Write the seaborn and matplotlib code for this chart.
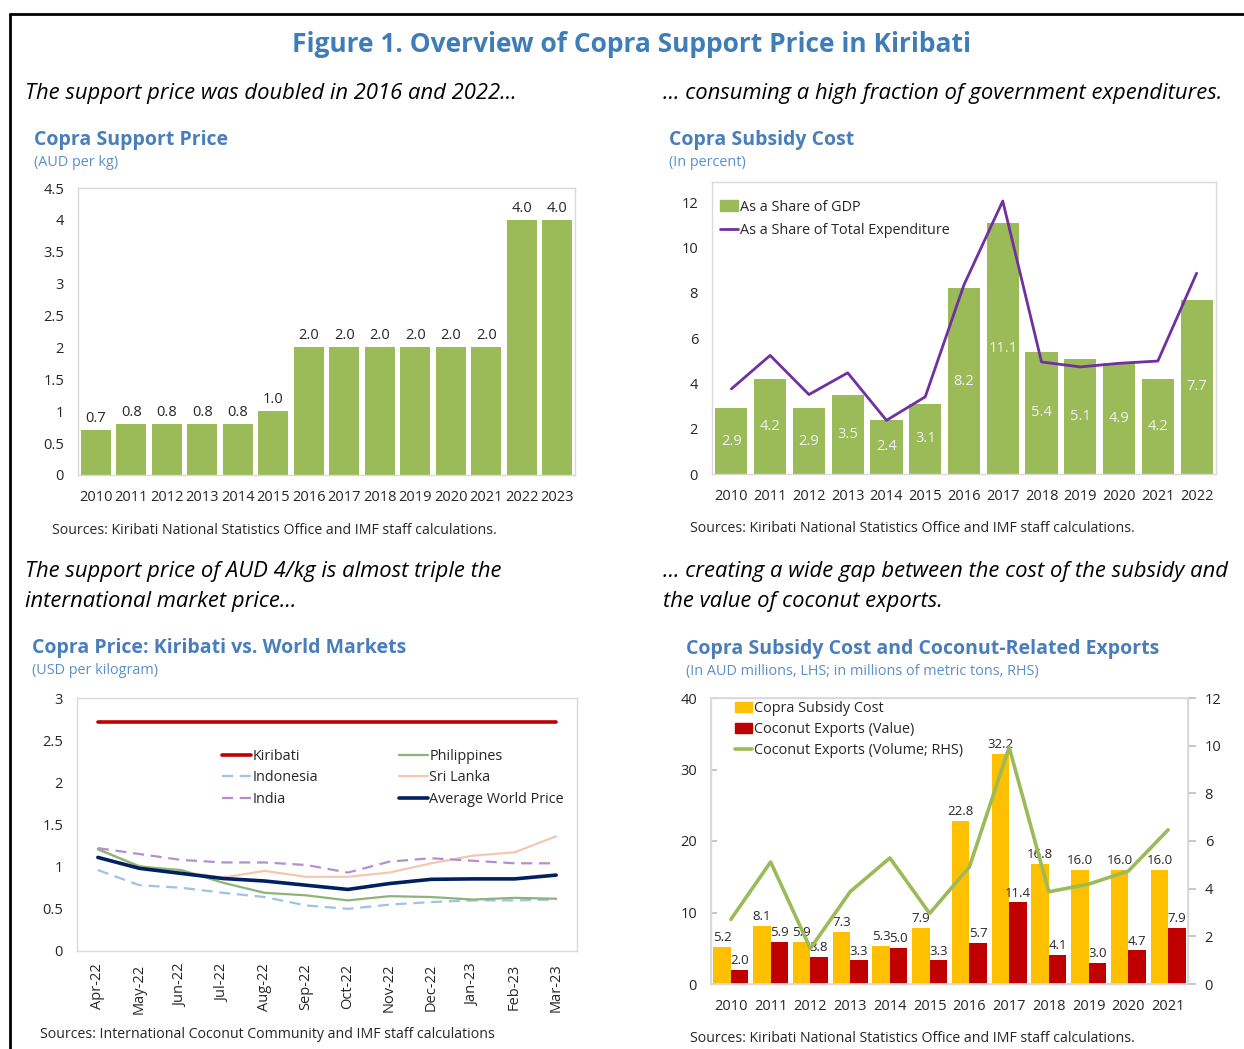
import numpy as np
import pandas as pd
import matplotlib
matplotlib.use('Agg')
import matplotlib.pyplot as plt
import seaborn as sns
from matplotlib.lines import Line2D
from matplotlib.patches import Patch
from matplotlib.ticker import FuncFormatter

sns.set_theme(style='white')
plt.rcParams['font.family'] = ['Open Sans', 'DejaVu Sans']

# ---- data ----
price_years = [str(y) for y in range(2010, 2024)]
support_price = [0.7, 0.8, 0.8, 0.8, 0.8, 1.0, 2.0, 2.0, 2.0, 2.0, 2.0, 2.0, 4.0, 4.0]

cost_years = [str(y) for y in range(2010, 2023)]
share_gdp = [2.9, 4.2, 2.9, 3.5, 2.4, 3.1, 8.2, 11.1, 5.4, 5.1, 4.9, 4.2, 7.7]
share_expenditure = [3.76, 5.24, 3.51, 4.47, 2.37, 3.41, 8.36, 12.06, 4.95, 4.73, 4.89, 4.99, 8.87]

months = ['Apr-22', 'May-22', 'Jun-22', 'Jul-22', 'Aug-22', 'Sep-22',
          'Oct-22', 'Nov-22', 'Dec-22', 'Jan-23', 'Feb-23', 'Mar-23']
kiribati = [2.72] * 12
indonesia = [0.96, 0.78, 0.75, 0.69, 0.64, 0.54, 0.50, 0.55, 0.58, 0.60, 0.60, 0.61]
india = [1.22, 1.15, 1.08, 1.05, 1.05, 1.02, 0.93, 1.06, 1.10, 1.07, 1.04, 1.04]
philippines = [1.21, 1.00, 0.96, 0.81, 0.69, 0.66, 0.60, 0.65, 0.64, 0.61, 0.63, 0.62]
sri_lanka = [1.20, 1.01, 0.94, 0.87, 0.95, 0.88, 0.88, 0.93, 1.04, 1.13, 1.17, 1.36]
avg_world = [1.11, 0.98, 0.92, 0.86, 0.83, 0.78, 0.73, 0.80, 0.85, 0.855, 0.855, 0.90]

export_years = [str(y) for y in range(2010, 2022)]
subsidy_cost = [5.2, 8.1, 5.9, 7.3, 5.3, 7.9, 22.8, 32.2, 16.8, 16.0, 16.0, 16.0]
export_value = [2.0, 5.9, 3.8, 3.3, 5.0, 3.3, 5.7, 11.4, 4.1, 3.0, 4.7, 7.9]
export_volume = [2.71, 5.12, 1.49, 3.87, 5.29, 2.96, 4.91, 9.93, 3.87, 4.19, 4.74, 6.47]

# ---- style ----
GREEN = '#9BBB59'
PURPLE = '#7030A0'
YELLOW = '#FFC000'
RED = '#C00000'
NAVY = '#002060'
TITLE_BLUE = '#3F7DB9'
CHART_BLUE = '#4A7EBB'
SUB_BLUE = '#5B8FC8'
DARK = '#262626'
FRAME = '#D9D9D9'
TICK_FS = 10.5
HEAD_FS = 15.8

W, H = 1244, 1049
fig = plt.figure(figsize=(W / 100, H / 100), dpi=100)


def px_axes(left, top, right, bottom):
    return fig.add_axes([left / W, 1 - bottom / H, (right - left) / W, (bottom - top) / H])


def px_text(x, y, s, **kw):
    fig.text(x / W, 1 - y / H, s, va='center', **kw)


def style_axes(ax):
    for sp in ax.spines.values():
        sp.set_color(FRAME)
        sp.set_linewidth(1)
    ax.tick_params(axis='both', labelsize=TICK_FS, labelcolor=DARK, color='#BFBFBF')
    ax.tick_params(axis='y', length=4, direction='in', pad=10)
    ax.tick_params(axis='x', length=0, pad=11)
    ax.set_xlabel('')
    ax.set_ylabel('')
    ax.yaxis.set_major_formatter(FuncFormatter(lambda v, p: f'{v:g}'))


# border
fig.add_artist(Line2D([10 / W, 1], [1 - 14 / H, 1 - 14 / H], transform=fig.transFigure, color='black', lw=2))
fig.add_artist(Line2D([10 / W, 10 / W], [1 - 14 / H, 0], transform=fig.transFigure, color='black', lw=2))

# titles and headings
px_text(631, 44, 'Figure 1. Overview of Copra Support Price in Kiribati', ha='center',
        fontsize=19, fontweight='bold', color=TITLE_BLUE)
px_text(25, 93, 'The support price was doubled in 2016 and 2022...', fontsize=HEAD_FS, style='italic', color='black')
px_text(663, 93, '... consuming a high fraction of government expenditures.', fontsize=HEAD_FS, style='italic', color='black')
px_text(25, 572, 'The support price of AUD 4/kg is almost triple the', fontsize=HEAD_FS, style='italic', color='black')
px_text(25, 602, 'international market price...', fontsize=HEAD_FS, style='italic', color='black')
px_text(663, 572, '... creating a wide gap between the cost of the subsidy and', fontsize=HEAD_FS, style='italic', color='black')
px_text(663, 602, 'the value of coconut exports.', fontsize=HEAD_FS, style='italic', color='black')

px_text(34, 140, 'Copra Support Price', fontsize=14, fontweight='bold', color=CHART_BLUE)
px_text(34, 162, '(AUD per kg)', fontsize=10.4, color=SUB_BLUE)
px_text(669, 140, 'Copra Subsidy Cost', fontsize=14, fontweight='bold', color=CHART_BLUE)
px_text(669, 162, '(In percent)', fontsize=10.4, color=SUB_BLUE)
px_text(32, 648, 'Copra Price: Kiribati vs. World Markets', fontsize=14, fontweight='bold', color=CHART_BLUE)
px_text(32, 671, '(USD per kilogram)', fontsize=10.4, color=SUB_BLUE)
px_text(686, 649, 'Copra Subsidy Cost and Coconut-Related Exports', fontsize=14, fontweight='bold', color=CHART_BLUE)
px_text(686, 671, '(In AUD millions, LHS; in millions of metric tons, RHS)', fontsize=10.4, color=SUB_BLUE)

src_kiribati = 'Sources: Kiribati National Statistics Office and IMF staff calculations.'
px_text(52, 530, src_kiribati, fontsize=10.2, color=DARK)
px_text(690, 529, src_kiribati, fontsize=10.2, color=DARK)
px_text(40, 1035, 'Sources: International Coconut Community and IMF staff calculations', fontsize=10.2, color=DARK)
px_text(690, 1039, src_kiribati, fontsize=10.2, color=DARK)

# ---- 1. Copra support price ----
ax1 = px_axes(78, 188, 575, 475)
df1 = pd.DataFrame({'year': price_years, 'price': support_price})
sns.barplot(data=df1, x='year', y='price', color=GREEN, saturation=1, width=0.84, linewidth=0, ax=ax1)
ax1.bar_label(ax1.containers[0], fmt='%.1f', padding=3, fontsize=10.5, color=DARK)
ax1.set_ylim(0, 4.5)
ax1.set_yticks(np.arange(0, 4.6, 0.5))
ax1.set_xlim(-0.5, len(price_years) - 0.5)
style_axes(ax1)
ax1.set_xticks(np.arange(-0.5, len(price_years)), minor=True)
ax1.tick_params(axis='x', which='minor', length=4, direction='in', color='#BFBFBF')

# ---- 2. Copra subsidy cost ----
ax2 = px_axes(712, 182, 1216, 474)
df2 = pd.DataFrame({'year': cost_years, 'gdp': share_gdp})
sns.barplot(data=df2, x='year', y='gdp', color=GREEN, saturation=1, width=0.83, linewidth=0, ax=ax2)
ax2.bar_label(ax2.containers[0], fmt='%.1f', label_type='center', fontsize=10.5, color='#F2F2F2')
df2b = pd.DataFrame({'pos': np.arange(len(cost_years)), 'exp': share_expenditure})
sns.lineplot(data=df2b, x='pos', y='exp', color=PURPLE, linewidth=2, ax=ax2)
ax2.set_ylim(0, 12.9)
ax2.set_yticks(np.arange(0, 13, 2))
ax2.set_xlim(-0.5, len(cost_years) - 0.5)
style_axes(ax2)
ax2.legend(handles=[Patch(color=GREEN, label='As a Share of GDP'),
                    Line2D([], [], color=PURPLE, lw=2, label='As a Share of Total Expenditure')],
           loc='upper left', bbox_to_anchor=(0.015, 0.94), frameon=False, fontsize=10.4,
           handlelength=1.3, handletextpad=0.1, labelspacing=0.6, borderpad=0, borderaxespad=0)

# ---- 3. Copra price vs world ----
ax3 = px_axes(77, 698, 577, 951)
pos = np.arange(len(months))
series = [
    ('Kiribati', kiribati, RED, 2.6, '-'),
    ('Indonesia', indonesia, '#9DC3E6', 1.6, (0, (5, 3))),
    ('India', india, '#B38FD0', 1.6, (0, (5, 3))),
    ('Philippines', philippines, '#8DB37A', 1.6, '-'),
    ('Sri Lanka', sri_lanka, '#F4C7AE', 1.6, '-'),
    ('Average World Price', avg_world, NAVY, 2.6, '-'),
]
handles = []
draw_order = ['Kiribati', 'Sri Lanka', 'Indonesia', 'India', 'Philippines', 'Average World Price']
lookup = {s[0]: s for s in series}
for name in draw_order:
    _, vals, col, lw, ls = lookup[name]
    sns.lineplot(x=pos, y=vals, color=col, linewidth=lw, linestyle=ls, ax=ax3)
for name, vals, col, lw, ls in series:
    handles.append(Line2D([], [], color=col, lw=lw, linestyle=ls, label=name))
ax3.set_ylim(0, 3)
ax3.set_yticks(np.arange(0, 3.1, 0.5))
ax3.set_xlim(-0.5, len(months) - 0.5)
style_axes(ax3)
ax3.set_xticks(pos)
ax3.set_xticklabels(months, rotation=90)
ax3.tick_params(axis='x', pad=9)
ax3.set_xticks(np.arange(-0.5, len(months)), minor=True)
ax3.tick_params(axis='x', which='minor', length=5, direction='in', color='#BFBFBF')
ax3.legend(handles=handles, ncol=2, loc='upper left', bbox_to_anchor=(0.29, 0.80), frameon=False,
           fontsize=10.4, handlelength=2, handletextpad=0.1, columnspacing=5.6, labelspacing=0.45,
           borderpad=0, borderaxespad=0)

# ---- 4. Subsidy cost and exports ----
ax4 = px_axes(711, 698, 1188, 984)
df4 = pd.DataFrame({
    'year': export_years * 2,
    'value': subsidy_cost + export_value,
    'series': ['Copra Subsidy Cost'] * len(export_years) + ['Coconut Exports (Value)'] * len(export_years),
})
sns.barplot(data=df4, x='year', y='value', hue='series', palette=[YELLOW, RED], saturation=1,
            width=0.88, linewidth=0, legend=False, ax=ax4)
for cont in ax4.containers:
    ax4.bar_label(cont, fmt='%.1f', padding=2, fontsize=9.5, color=DARK)
ax4.set_ylim(0, 40)
ax4.set_yticks(np.arange(0, 41, 10))
ax4.set_xlim(-0.5, len(export_years) - 0.5)
style_axes(ax4)
ax4r = ax4.twinx()
df4b = pd.DataFrame({'pos': np.arange(len(export_years)), 'vol': export_volume})
sns.lineplot(data=df4b, x='pos', y='vol', color=GREEN, linewidth=2.6, ax=ax4r)
ax4r.set_ylim(0, 12)
ax4r.set_yticks(np.arange(0, 13, 2))
for sp in ax4r.spines.values():
    sp.set_color(FRAME)
ax4r.tick_params(axis='y', labelsize=TICK_FS, labelcolor=DARK, color='#BFBFBF', length=6, direction='out', pad=6)
ax4r.set_ylabel('')
ax4r.set_xlabel('')
ax4r.yaxis.set_major_formatter(FuncFormatter(lambda v, p: f'{v:g}'))
ax4r.legend(handles=[Patch(color=YELLOW, label='Copra Subsidy Cost'),
                     Patch(color=RED, label='Coconut Exports (Value)'),
                     Line2D([], [], color=GREEN, lw=2.6, label='Coconut Exports (Volume; RHS)')],
            loc='upper left', bbox_to_anchor=(0.05, 0.99), frameon=False, fontsize=10.4,
            handlelength=1.2, handletextpad=0.1, labelspacing=0.42, borderpad=0, borderaxespad=0)

fig.savefig('out.png', dpi=100)
